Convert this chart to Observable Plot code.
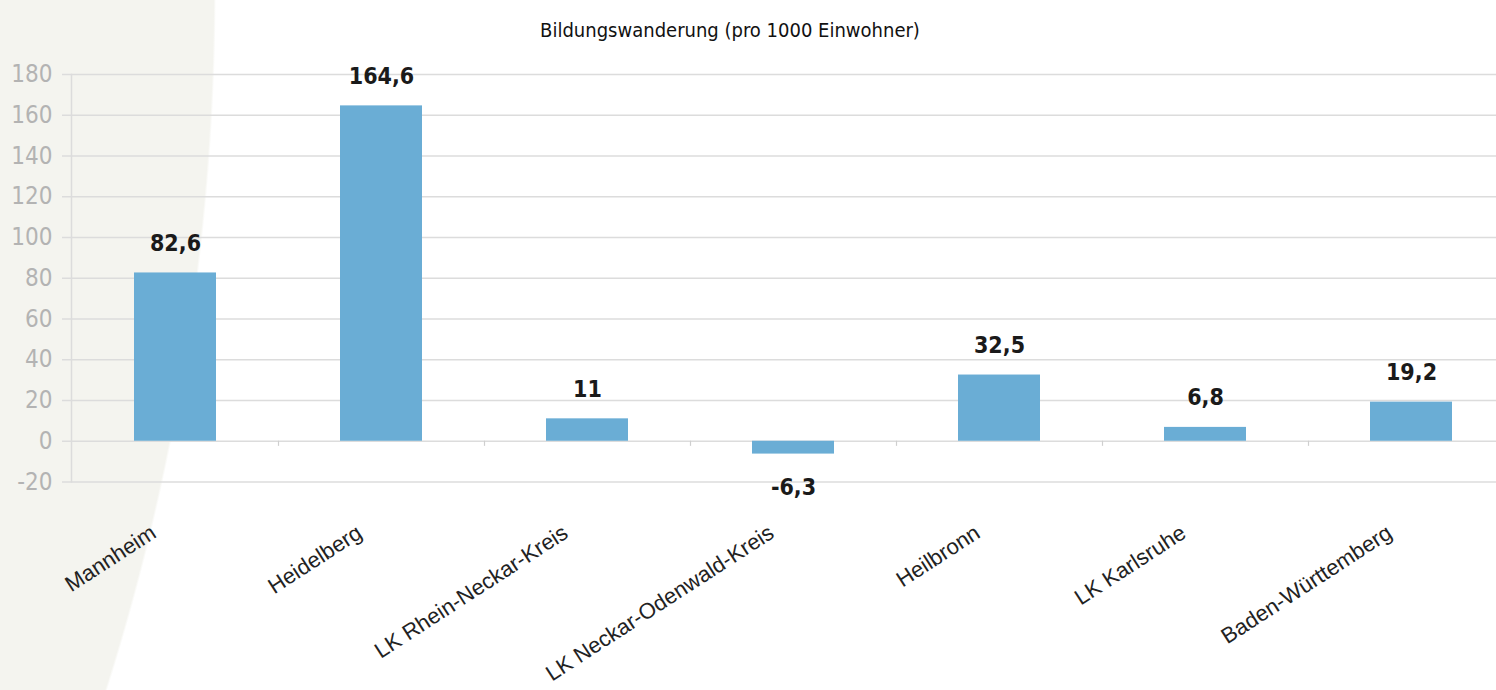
<!DOCTYPE html>
<html>
<head>
<meta charset="utf-8">
<script src="https://cdn.jsdelivr.net/npm/d3@7"></script>
<script src="https://cdn.jsdelivr.net/npm/@observablehq/plot@0.6"></script>
<style>
  html, body { margin: 0; padding: 0; overflow: hidden; }
  body {
    width: 1496px; height: 690px;
    background: radial-gradient(circle 2322px at -2106px -12px, #f4f4ef 99.9%, #ffffff 100%);
  }
  #title {
    width: 1460px; height: 50px; line-height: 60px; text-align: center;
    font-family: "Liberation Sans Narrow", "Arial Narrow", "DejaVu Sans Condensed", sans-serif;
    font-stretch: condensed;
    font-size: 20px; color: #111;
  }
</style>
</head>
<body>
<div id="title">Bildungswanderung (pro 1000 Einwohner)</div>
<div id="chart"></div>
<script>
const categories = ["Mannheim", "Heidelberg", "LK Rhein-Neckar-Kreis", "LK Neckar-Odenwald-Kreis", "Heilbronn", "LK Karlsruhe", "Baden-Württemberg"];
const values = [82.6, 164.6, 11, -6.3, 32.5, 6.8, 19.2];
const yTicks = [-20, 0, 20, 40, 60, 80, 100, 120, 140, 160, 180];

const data = categories.map((c, i) => ({category: c, value: values[i], label: String(values[i]).replace(".", ",")}));
const narrow = `"Liberation Sans Narrow", "Arial Narrow", "DejaVu Sans Condensed", sans-serif`;

const chart = Plot.plot({
  width: 1496,
  height: 640,
  marginTop: 24,
  marginBottom: 208.5,
  marginLeft: 71,
  marginRight: -20,
  style: {background: "transparent", overflow: "hidden"},
  x: {domain: categories, paddingInner: 0.6, paddingOuter: 0.3, axis: null},
  y: {domain: [-20, 180], axis: null},
  marks: [
    Plot.ruleY(yTicks, {stroke: "#dcdcdc", strokeWidth: 1.5}),
    Plot.axisY({ticks: yTicks, tickFormat: d => String(d), tickSize: 9, tickPadding: 10, stroke: "#dcdcdc", strokeWidth: 1.5, fill: "#b3b3b3",
      fontSize: 24, fontFamily: narrow, label: null}),
    Plot.frame({anchor: "left", stroke: "#dcdcdc", strokeWidth: 1.5}),
    Plot.ruleX(categories.slice(0, -1), {x: d => d, y1: 0, y2: -2.5, dx: 103, stroke: "#cfcfcf", strokeWidth: 1.2}),
    Plot.barY(data, {x: "category", y: "value", fill: "#6aadd5"}),
    Plot.text(data.filter(d => d.value >= 0), {x: "category", y: "value", text: "label", lineAnchor: "bottom", dy: -22,
      fontSize: 23, fontWeight: "bold", fontFamily: narrow, fill: "#1a1a1a"}),
    Plot.text(data.filter(d => d.value < 0), {x: "category", y: "value", text: "label", lineAnchor: "bottom", dy: 41,
      fontSize: 23, fontWeight: "bold", fontFamily: narrow, fill: "#1a1a1a"}),
    Plot.text(data, {x: "category", frameAnchor: "bottom", text: "category", rotate: -33, textAnchor: "end",
      lineAnchor: "bottom", dx: -18, dy: 54.5, fontSize: 22, fontFamily: "Liberation Sans, Arial, sans-serif", fill: "#222"})
  ]
});
document.getElementById("chart").appendChild(chart);
</script>
</body>
</html>
